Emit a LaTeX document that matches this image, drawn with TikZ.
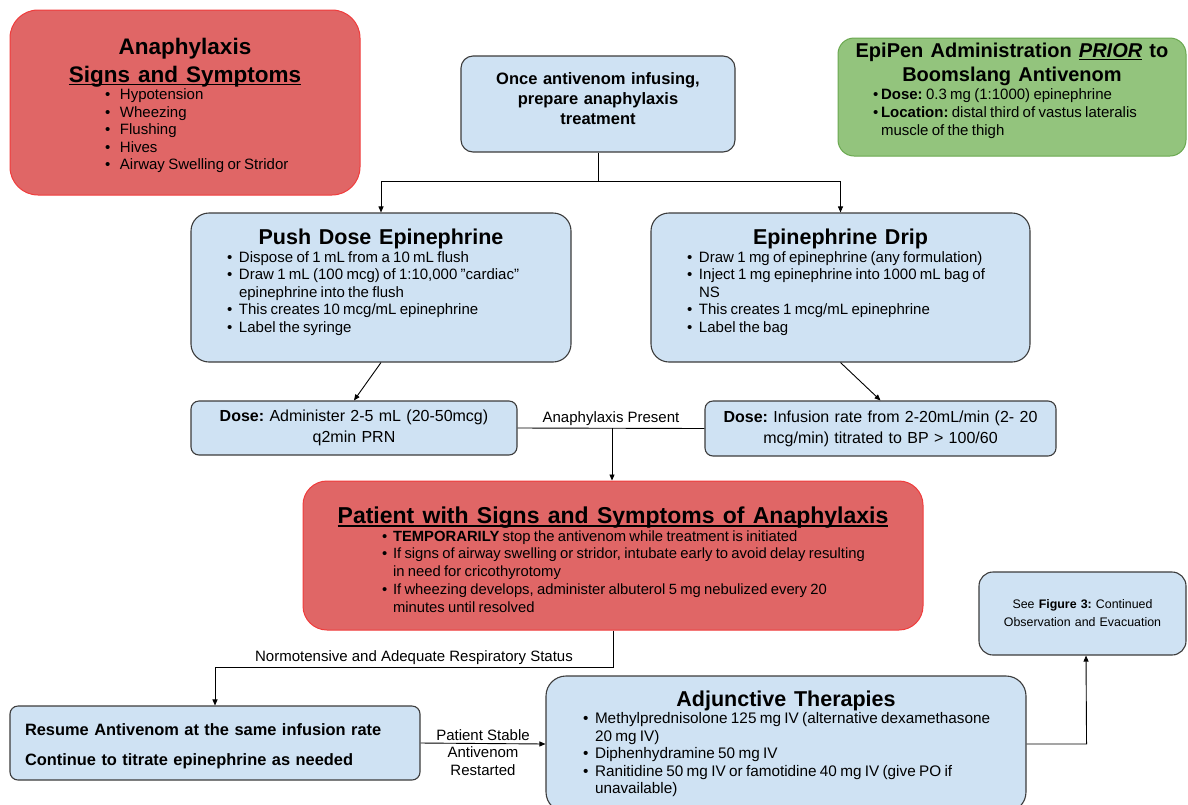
\documentclass[tikz,border=0pt]{standalone}
\usepackage{fontspec}
\setmainfont{Liberation Sans}
\usetikzlibrary{arrows.meta,positioning}

\definecolor{redfill}{HTML}{E06666}
\definecolor{redline}{HTML}{F03C3C}
\definecolor{greenfill}{HTML}{93C47D}
\definecolor{greenline}{HTML}{6AA84F}
\definecolor{bluefill}{HTML}{CFE2F3}
\definecolor{blueline}{HTML}{3C3C3C}

\frenchspacing
\newlength{\bulw}
\setlength{\bulw}{12pt}
\newsavebox{\ulbox}
\newcommand{\setfs}[2]{\fontsize{#1}{#2}\selectfont}
\newcommand{\ttl}{\bfseries\spaceskip=0.36em\relax}
\newcommand{\ulin}[1]{\sbox{\ulbox}{#1}\makebox[0pt][l]{\rule[-0.13em]{\wd\ulbox}{0.065em}}\usebox{\ulbox}}
\newcommand{\bitem}[1]{\par\hangindent=\bulw\hangafter=1\noindent\makebox[\bulw][l]{\textbullet}#1}

\begin{document}
\begin{tikzpicture}[x=1pt,y=-1pt]
  \tikzset{
    redbox/.style={draw=redline, fill=redfill, line width=1pt, rounded corners=28pt, inner sep=0pt, align=left},
    greenbox/.style={draw=greenline, fill=greenfill, line width=1pt, rounded corners=16pt, inner sep=0pt, align=left},
    bluebox/.style={draw=blueline, fill=bluefill, line width=1.1pt, rounded corners=18pt, inner sep=0pt, align=left},
    link/.style={line width=0.9pt},
    arr/.style={line width=0.9pt, -{Triangle[length=6pt,width=5pt]}},
    tag/.style={font=\setfs{15}{18.5}, inner sep=2.5pt, align=center}
  }
  \useasboundingbox (0,0) rectangle (1188,804);

  % top row
  \node[redbox, text width=350pt, minimum height=185pt] (signs) at (185,102.5) {%
    {\centering\setfs{22.5}{28}\ttl Anaphylaxis\\ \ulin{Signs and Symptoms}\par}
    \setfs{15}{17.5}\leftskip=95pt\bulw=15pt
    \bitem{Hypotension}
    \bitem{Wheezing}
    \bitem{Flushing}
    \bitem{Hives}
    \bitem{Airway Swelling or Stridor}\par
    \kern-6pt};

  \node[bluebox, rounded corners=12pt, text width=274pt, minimum height=96pt, align=center,
        font=\setfs{16.5}{20}\bfseries] (start) at (598,104)
    {Once antivenom infusing,\\ prepare anaphylaxis\\ treatment\par\kern10pt};

  \node[greenbox, text width=348pt, minimum height=118pt] (epipen) at (1012,97) {%
    {\centering\setfs{20}{24}\ttl EpiPen Administration \ulin{\textit{PRIOR}} to\\ Boomslang Antivenom\par}
    \setfs{15}{18}\leftskip=35pt\bulw=8pt
    \bitem{\textbf{Dose:} 0.3 mg (1:1000) epinephrine}
    \bitem{\textbf{Location:} distal third of vastus lateralis\newline muscle of the thigh}\par
    \kern12pt};

  % preparation
  \node[bluebox, text width=380pt, minimum height=149pt] (push) at (381,287.5) {%
    {\centering\setfs{21.5}{24}\ttl Push Dose Epinephrine\par}
    \setfs{15}{17.5}\leftskip=36pt
    \bitem{Dispose of 1 mL from a 10 mL flush}
    \bitem{Draw 1 mL (100 mcg) of 1:10,000 "cardiac"\newline epinephrine into the flush}
    \bitem{This creates 10 mcg/mL epinephrine}
    \bitem{Label the syringe}\par
    \kern10pt};

  \node[bluebox, text width=379pt, minimum height=149pt] (drip) at (840.5,287.5) {%
    {\centering\setfs{21.5}{24}\ttl Epinephrine Drip\par}
    \setfs{15}{17.5}\leftskip=36pt
    \bitem{Draw 1 mg of epinephrine (any formulation)}
    \bitem{Inject 1 mg epinephrine into 1000 mL bag of\newline NS}
    \bitem{This creates 1 mcg/mL epinephrine}
    \bitem{Label the bag}\par
    \kern10pt};

  % doses
  \node[bluebox, rounded corners=8pt, text width=326pt, minimum height=54pt, align=center,
        font=\setfs{16}{21}] (doseleft) at (354,428)
    {\textbf{Dose:} Administer 2-5 mL (20-50mcg)\\ q2min PRN};
  \node[bluebox, rounded corners=8pt, text width=351pt, minimum height=55pt, align=center,
        font=\setfs{16}{21}] (doseright) at (880.5,428.5)
    {\textbf{Dose:} Infusion rate from 2-20mL/min (2- 20\\ mcg/min) titrated to BP > 100/60};

  % anaphylaxis
  \node[redbox, rounded corners=24pt, text width=620pt, minimum height=149pt] (patient) at (613,555.5) {%
    {\centering\setfs{23}{26}\ttl\ulin{Patient with Signs and Symptoms of Anaphylaxis}\par}
    \setfs{14.8}{17.7}\leftskip=79pt\bulw=11pt
    \bitem{\textbf{TEMPORARILY} stop the antivenom while treatment is initiated}
    \bitem{If signs of airway swelling or stridor, intubate early to avoid delay resulting\newline in need for cricothyrotomy}
    \bitem{If wheezing develops, administer albuterol 5 mg nebulized every 20\newline minutes until resolved}\par
    \kern-8pt};

  % follow-up
  \node[bluebox, rounded corners=14pt, text width=207pt, minimum height=83pt, align=center,
        font=\setfs{12.4}{18}] (seefig) at (1082.5,613.5)
    {See \textbf{Figure 3:} Continued\\ Observation and Evacuation};

  \node[bluebox, rounded corners=8pt, inner xsep=15pt, text width=380pt, minimum height=74pt,
        font=\setfs{16.4}{30}\bfseries] (resume) at (215,743)
    {Resume Antivenom at the same infusion rate\\ Continue to titrate epinephrine as needed\par\kern-6pt};

  \node[bluebox, rounded corners=20pt, text width=480pt, minimum height=136pt] (adjunct) at (786,744) {%
    {\centering\setfs{21.5}{24}\ttl Adjunctive Therapies\par}
    \setfs{15.3}{17.5}\leftskip=37pt
    \bitem{Methylprednisolone 125 mg IV (alternative dexamethasone\newline 20 mg IV)}
    \bitem{Diphenhydramine 50 mg IV}
    \bitem{Ranitidine 50 mg IV or famotidine 40 mg IV (give PO if\newline unavailable)}\par};

  % connectors
  \coordinate (split) at (598,181);
  \coordinate (join) at (612,428);
  \draw[link] (start.south) -- (split);
  \draw[arr] (split) -| (push.north);
  \draw[arr] (split) -| (drip.north);
  \draw[arr] (push.south) -- (doseleft.north);
  \draw[arr] (drip.south) -- (doseright.north);
  \draw[link] (doseleft.east) -- node[tag, above] (present) {Anaphylaxis Present} (doseright.west);
  \draw[arr] (join) -- (join |- patient.north);
  \draw[arr] (patient.south) -- ++(0,37) -| node[tag, pos=0.25, above] (normo)
    {Normotensive and Adequate Respiratory Status} (resume.north);
  \draw[arr] (resume.east) -- node[tag, above] (stable) {Patient Stable}
    node[tag, below] (restart) {Antivenom\\ Restarted} (adjunct.west);
  \draw[arr] (adjunct.east) -- ++(60,0) -- (seefig.south -| 1086,0);
\end{tikzpicture}
\end{document}
